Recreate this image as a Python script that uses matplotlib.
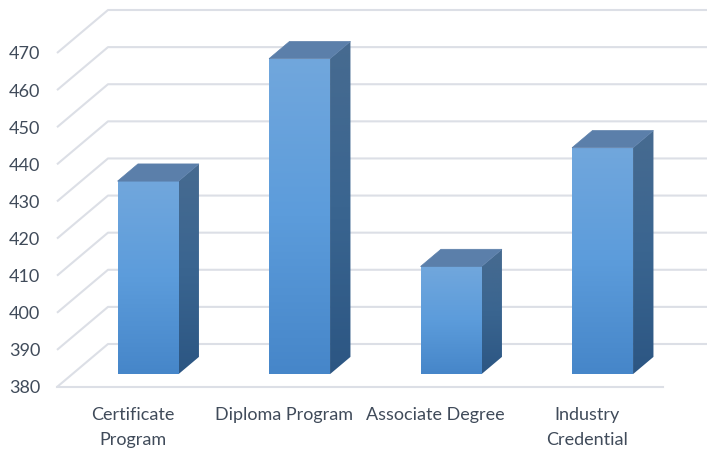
import numpy as np
import matplotlib
matplotlib.use("Agg")
import matplotlib.pyplot as plt
from matplotlib.patches import Polygon
from matplotlib.colors import LinearSegmentedColormap

categories = ["Certificate\nProgram", "Diploma Program", "Associate Degree", "Industry\nCredential"]
values = [432, 465, 409, 441]
ticks = [380, 390, 400, 410, 420, 430, 440, 450, 460, 470]

W, H = 707, 453
fig = plt.figure(figsize=(W / 100, H / 100), dpi=100)
ax = fig.add_axes([0, 0, 1, 1])
ax.axis('off')

# geometry (pixels -> data scale)
x_left_px, cat_px = 57, 151.5
y_base_px, val_px = 387, 3.711
xmin = -0.5 - x_left_px / cat_px
xmax = -0.5 + (W - x_left_px) / cat_px
ymin = ticks[0] - (H - y_base_px) / val_px
ymax = ticks[0] + y_base_px / val_px

ddx = 51 / cat_px   # full depth offset in x (category units)
ddy = 43 / val_px   # full depth offset in y (value units)
xl = -0.5
xr = len(categories) - 0.5
base = ticks[0]

grid_col = "#DCDFE6"
text_col = "#404B5A"

# gridlines: side wall diagonals + back wall horizontals
for t in ticks:
    ax.plot([xl, xl + ddx, xmax + 1], [t, t + ddy, t + ddy], color=grid_col, lw=1.5,
            solid_capstyle='butt', zorder=1)
# floor front edge
ax.plot([xl, xr], [base, base], color=grid_col, lw=1.5, zorder=1)

# tick labels
for t in ticks:
    ax.text(xl - 0.11, t - 0.4, str(t), ha='right', va='center', fontsize=13,
            color=text_col, family='Lato')

# category labels
for i, c in enumerate(categories):
    ax.text(i, base - 5.3, c, ha='center', va='top', fontsize=13, color=text_col,
            family='Lato', linespacing=1.7, multialignment='center')

front_cmap = LinearSegmentedColormap.from_list("f", ["#4686C9", "#5C9CDB", "#71A7DD"])
side_cmap = LinearSegmentedColormap.from_list("s", ["#2C5683", "#3A6590", "#476B90"])
top_col = "#5B7FAA"

bw = 61 / cat_px
d0, d1 = 0.3, 0.7
grad = np.linspace(0, 1, 256).reshape(-1, 1)

for i, v in enumerate(values):
    x0 = i - bw / 2 + d0 * ddx
    x1 = x0 + bw
    y0 = base + d0 * ddy
    yt = v + d0 * ddy
    sx = (d1 - d0) * ddx
    sy = (d1 - d0) * ddy

    # front face
    front = Polygon([(x0, y0), (x1, y0), (x1, yt), (x0, yt)], closed=True,
                    facecolor='none', edgecolor='none', zorder=3)
    ax.add_patch(front)
    im = ax.imshow(grad, cmap=front_cmap, extent=(x0, x1, y0, yt), origin='lower',
                   aspect='auto', zorder=3, interpolation='bilinear')
    im.set_clip_path(front)

    # side face
    side = Polygon([(x1, y0), (x1 + sx, y0 + sy), (x1 + sx, yt + sy), (x1, yt)], closed=True,
                   facecolor='none', edgecolor='none', zorder=3)
    ax.add_patch(side)
    im2 = ax.imshow(grad, cmap=side_cmap, extent=(x1, x1 + sx, y0, yt + sy), origin='lower',
                    aspect='auto', zorder=3, interpolation='bilinear')
    im2.set_clip_path(side)

    # top face
    top = Polygon([(x0, yt), (x1, yt), (x1 + sx, yt + sy), (x0 + sx, yt + sy)], closed=True,
                  facecolor=top_col, edgecolor=top_col, lw=0.5, zorder=4)
    ax.add_patch(top)

ax.set_xlim(xmin, xmax)
ax.set_ylim(ymin, ymax)
ax.set_aspect('auto')

fig.savefig("out.png", dpi=100, facecolor='white')
